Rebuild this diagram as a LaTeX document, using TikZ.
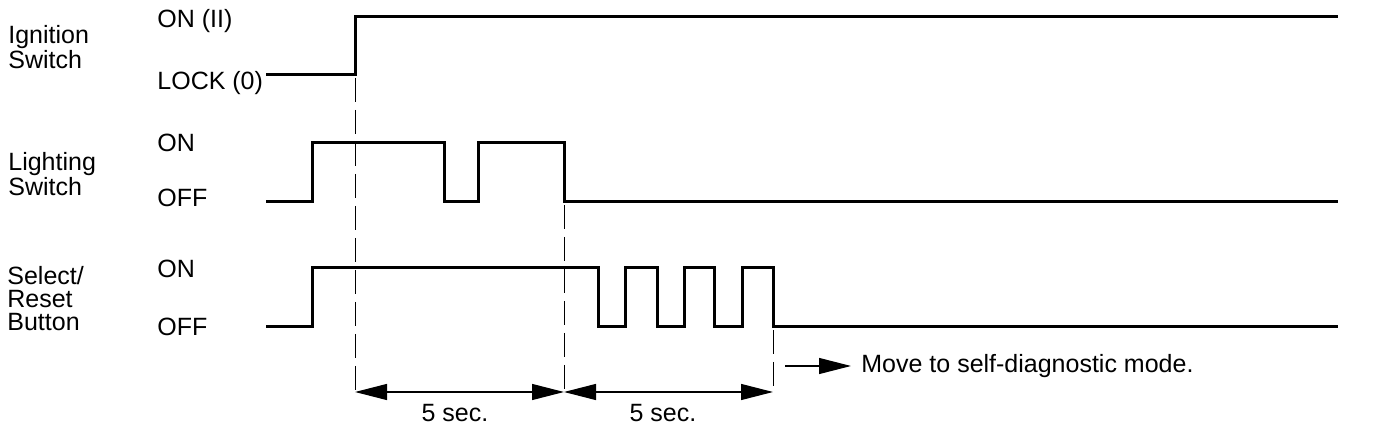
\documentclass[tikz,border=0pt]{standalone}
\usepackage{fontspec}
\setmainfont{Liberation Sans}
\usetikzlibrary{arrows.meta}

\begin{document}
\begin{tikzpicture}[x=0.5pt, y=-0.5pt,
    signal/.style={line width=1.5pt, line join=miter},
    guide/.style={line width=0.5pt, dash pattern=on 12pt off 4pt},
    dim/.style={line width=0.6pt, {Triangle[length=16pt,width=8pt]}-{Triangle[length=16pt,width=8pt]}},
    txt/.style={inner sep=0pt, font=\fontsize{12.5}{11.5}\selectfont},
    lvl/.style={txt, anchor=base west},
    lbl/.style={txt, anchor=north west, align=left}]
    \useasboundingbox (0,0) rectangle (1376,432);

    % row labels
    \node[lbl] (ign) at (8,25) {Ignition\\Switch};
    \node[lbl] (lgt) at (8,152) {Lighting\\Switch};
    \node[lbl] (sel) at (7,266) {Select/\\Reset\\Button};

    \node[lvl] (ignOn)  at (157,28)  {ON (II)};
    \node[lvl] (ignOff) at (157,90)  {LOCK (0)};
    \node[lvl] (lgtOn)  at (157,152) {ON};
    \node[lvl] (lgtOff) at (157,207) {OFF};
    \node[lvl] (selOn)  at (157,278) {ON};
    \node[lvl] (selOff) at (157,336) {OFF};

    % time marks
    \coordinate (T0) at (355,392);
    \coordinate (T1) at (564,392);
    \coordinate (T2) at (773,392);

    % waveforms
    \draw[signal] (266,75) -- (355,75) -- (355,17) -- (1338,17);
    \draw[signal] (266,202) -- (312,202) -- (312,143) -- (444,143) -- (444,202)
                  -- (478,202) -- (478,143) -- (564,143) -- (564,202) -- (1338,202);
    \draw[signal] (266,327) -- (312,327) -- (312,268) -- (598,268) -- (598,327)
                  -- (625,327) -- (625,268) -- (657,268) -- (657,327)
                  -- (684,327) -- (684,268) -- (714,268) -- (714,327)
                  -- (742,327) -- (742,268) -- (773,268) -- (773,327) -- (1338,327);

    \draw[guide] (355,78) -- (T0);
    \draw[guide] (564,205) -- (T1);
    \draw[guide] (773,330) -- (T2);

    \draw[dim] (T0) -- (T1);
    \draw[dim] (T1) -- (T2);
    \node[txt, anchor=base] (d1) at (455,422) {5 sec.};
    \node[txt, anchor=base] (d2) at (663,422) {5 sec.};

    \coordinate (mv) at (785,366);
    \node[txt, anchor=west] (diag) at (861,366) {Move to self-diagnostic mode.};
    \draw[line width=0.6pt, -{Triangle[length=16pt,width=8pt]}] (mv) -- ([xshift=-5pt]diag.west);
\end{tikzpicture}
\end{document}
